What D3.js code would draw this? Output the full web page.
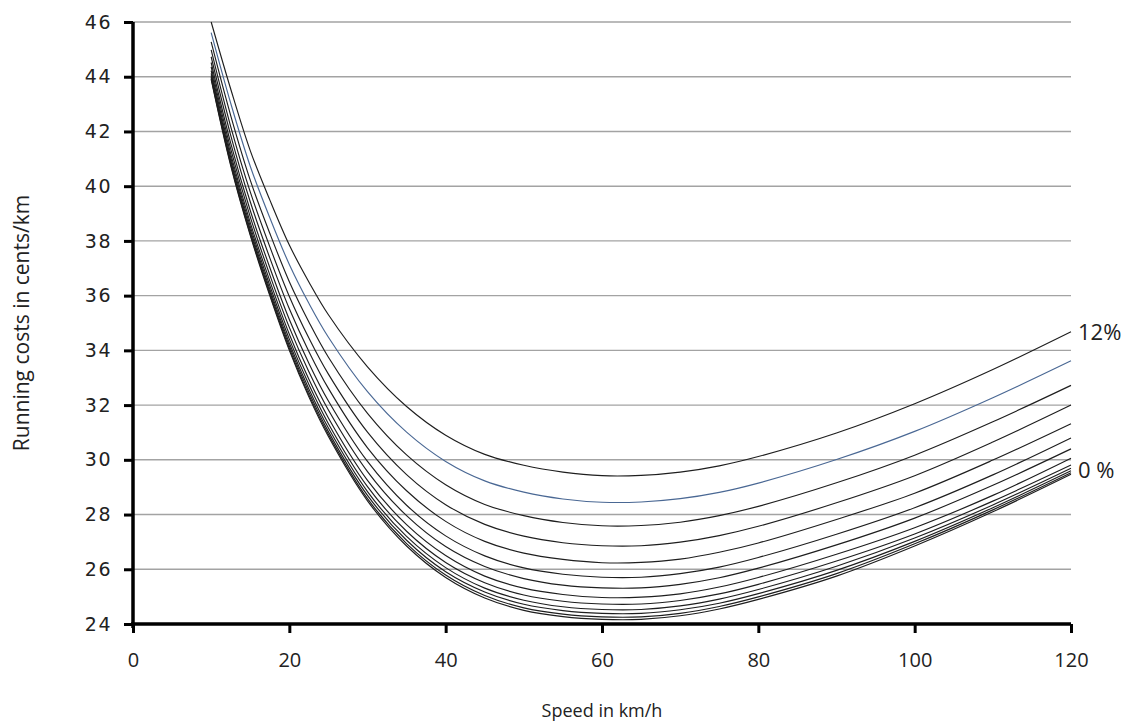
<!DOCTYPE html>
<html>
<head>
<meta charset="utf-8">
<script src="https://cdn.jsdelivr.net/npm/d3@7"></script>
<style>
  body { margin: 0; background: #fff; }
  svg { display: block; }
</style>
</head>
<body>
<svg id="chart" width="1136" height="724"></svg>
<script>
// Speeds (km/h) at which running costs are sampled
const speeds = [10, 12.5, 15, 17.5, 20, 22.5, 25, 30, 35, 40, 45, 50, 55, 60, 65, 70, 75, 80, 90, 100, 110, 120];

// Running costs (cents/km) per road gradient, 0 % to 12 %
const cost0  = [43.90, 40.75, 38.20, 36.00, 34.00, 32.30, 30.85, 28.50, 26.85, 25.70, 24.95, 24.50, 24.27, 24.17, 24.17, 24.30, 24.55, 24.90, 25.75, 26.85, 28.10, 29.47];
const cost1  = [43.94, 40.80, 38.25, 36.06, 34.07, 32.37, 30.93, 28.58, 26.94, 25.79, 25.04, 24.59, 24.36, 24.26, 24.26, 24.39, 24.64, 24.99, 25.84, 26.93, 28.17, 29.53];
const cost2  = [43.99, 40.87, 38.33, 36.14, 34.16, 32.47, 31.03, 28.70, 27.06, 25.91, 25.17, 24.72, 24.49, 24.39, 24.39, 24.52, 24.76, 25.11, 25.96, 27.02, 28.25, 29.60];
const cost3  = [44.05, 40.94, 38.41, 36.24, 34.27, 32.59, 31.16, 28.84, 27.20, 26.06, 25.31, 24.87, 24.63, 24.53, 24.53, 24.66, 24.91, 25.26, 26.11, 27.14, 28.35, 29.69];
const cost4  = [44.12, 41.05, 38.53, 36.37, 34.41, 32.75, 31.32, 29.02, 27.39, 26.25, 25.51, 25.06, 24.83, 24.73, 24.73, 24.86, 25.10, 25.45, 26.30, 27.29, 28.49, 29.81];
const cost5  = [44.22, 41.18, 38.67, 36.54, 34.59, 32.94, 31.53, 29.25, 27.63, 26.50, 25.75, 25.31, 25.08, 24.97, 24.98, 25.10, 25.35, 25.70, 26.55, 27.52, 28.70, 30.06];
const cost6  = [44.36, 41.36, 38.88, 36.76, 34.84, 33.22, 31.82, 29.57, 27.96, 26.83, 26.10, 25.66, 25.42, 25.32, 25.32, 25.45, 25.69, 26.04, 26.89, 27.87, 29.07, 30.40];
const cost7  = [44.52, 41.57, 39.11, 37.03, 35.13, 33.53, 32.15, 29.94, 28.34, 27.22, 26.49, 26.05, 25.82, 25.71, 25.71, 25.84, 26.08, 26.43, 27.28, 28.25, 29.45, 30.80];
const cost8  = [44.73, 41.86, 39.43, 37.38, 35.52, 33.96, 32.61, 30.44, 28.87, 27.75, 27.02, 26.59, 26.36, 26.24, 26.25, 26.37, 26.62, 26.96, 27.82, 28.78, 29.99, 31.32];
const cost9  = [44.98, 42.18, 39.79, 37.79, 35.97, 34.45, 33.13, 31.01, 29.46, 28.36, 27.64, 27.21, 26.97, 26.86, 26.86, 26.99, 27.23, 27.57, 28.43, 29.42, 30.65, 32.00];
const cost10 = [45.27, 42.58, 40.22, 38.28, 36.51, 35.04, 33.75, 31.70, 30.18, 29.09, 28.37, 27.96, 27.71, 27.59, 27.60, 27.72, 27.96, 28.30, 29.16, 30.17, 31.39, 32.72];
const cost11 = [45.61, 43.03, 40.73, 38.85, 37.14, 35.72, 34.48, 32.49, 31.01, 29.94, 29.23, 28.82, 28.57, 28.45, 28.46, 28.58, 28.81, 29.15, 30.01, 31.04, 32.27, 33.62];
const cost12 = [46.00, 43.55, 41.30, 39.50, 37.85, 36.50, 35.30, 33.40, 31.95, 30.90, 30.20, 29.80, 29.55, 29.42, 29.43, 29.55, 29.78, 30.12, 30.98, 32.05, 33.30, 34.68];

const gradients = [0, 1, 2, 3, 4, 5, 6, 7, 8, 9, 10, 11, 12];
const costSeries = [cost0, cost1, cost2, cost3, cost4, cost5, cost6, cost7, cost8, cost9, cost10, cost11, cost12];

const xTicks = [0, 20, 40, 60, 80, 100, 120];
const yTicks = [24, 26, 28, 30, 32, 34, 36, 38, 40, 42, 44, 46];

const svg = d3.select("#chart");

const x = d3.scaleLinear().domain([0, 120]).range([133, 1071]);
const y = d3.scaleLinear().domain([24, 46]).range([624, 22]);

// Horizontal gridlines
svg.append("g")
  .selectAll("line")
  .data(yTicks.filter(d => d > 24))
  .join("line")
  .attr("x1", x(0)).attr("x2", x(120))
  .attr("y1", d => y(d)).attr("y2", d => y(d))
  .attr("stroke", "#a3a3a3")
  .attr("stroke-width", 1.4);

// Cost curves, one per gradient
const line = d3.line()
  .x((d, i) => x(speeds[i]))
  .y(d => y(d))
  .curve(d3.curveCatmullRom.alpha(0.5));

svg.append("g")
  .attr("fill", "none")
  .selectAll("path")
  .data(costSeries)
  .join("path")
  .attr("d", d => line(d))
  .attr("stroke", (d, i) => gradients[i] === 11 ? "#4a6894" : "#1e1e1e")
  .attr("stroke-width", 1.15);

// Y axis
const yAxis = svg.append("g")
  .attr("transform", `translate(${x(0)},0)`)
  .call(d3.axisLeft(y).tickValues(yTicks).tickSize(9).tickPadding(12).tickFormat(d3.format("d")));
yAxis.select(".domain").attr("stroke", "#000").attr("stroke-width", 3.5)
  .attr("d", `M0,${y(46)}V${y(24) + 4}`);
yAxis.selectAll(".tick line").attr("stroke", "#000").attr("stroke-width", 3);
yAxis.selectAll(".tick text")
  .attr("fill", "#222")
  .style("font-family", "'DejaVu Sans', Verdana, sans-serif")
  .style("font-size", "19px")
  .style("letter-spacing", "1.5px");

// X axis
const xAxis = svg.append("g")
  .attr("transform", `translate(0,${y(24)})`)
  .call(d3.axisBottom(x).tickValues(xTicks).tickSize(9).tickPadding(20).tickFormat(d3.format("d")));
xAxis.select(".domain").attr("stroke", "#000").attr("stroke-width", 3.5)
  .attr("d", `M${x(0) - 2},0H${x(120)}`);
xAxis.selectAll(".tick line").attr("stroke", "#000").attr("stroke-width", 3);
xAxis.selectAll(".tick text")
  .attr("fill", "#222")
  .style("font-family", "'Open Sans', sans-serif")
  .style("font-size", "20px");

// Axis titles
svg.append("text")
  .attr("x", (x(0) + x(120)) / 2)
  .attr("y", 717)
  .attr("text-anchor", "middle")
  .attr("fill", "#222")
  .style("font-family", "'Open Sans', sans-serif")
  .style("font-size", "18px")
  .text("Speed in km/h");

svg.append("text")
  .attr("transform", `translate(29,${y(35)}) rotate(-90)`)
  .attr("text-anchor", "middle")
  .attr("fill", "#222")
  .style("font-family", "'Open Sans', sans-serif")
  .style("font-size", "21px")
  .text("Running costs in cents/km");

// Gradient labels at the right end of the outer curves
const endLabels = [
  { idx: 12, text: "12%", dy: 2 },
  { idx: 0, text: "0 %", dy: -2 }
];
svg.append("g")
  .selectAll("text")
  .data(endLabels)
  .join("text")
  .attr("x", x(120) + 7)
  .attr("y", d => y(costSeries[d.idx][speeds.length - 1]) + d.dy)
  .attr("dominant-baseline", "middle")
  .attr("fill", "#222")
  .style("font-family", "'Open Sans', sans-serif")
  .style("font-size", "22px")
  .text(d => d.text);
</script>
</body>
</html>
